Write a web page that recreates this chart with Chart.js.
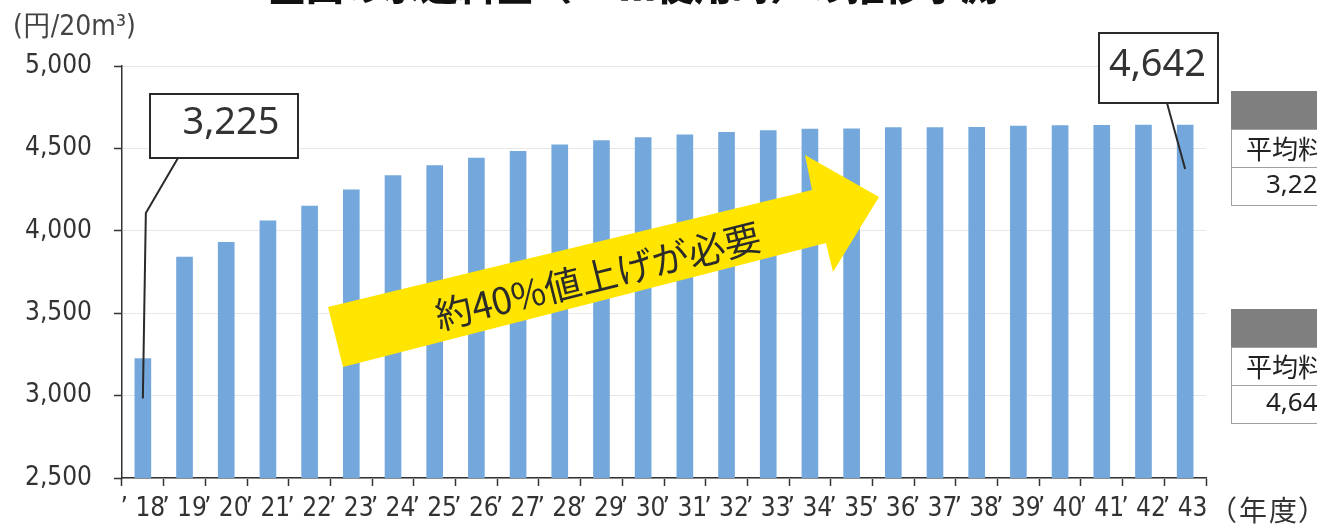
<!DOCTYPE html>
<html>
<head>
<meta charset="utf-8">
<script src="https://cdn.jsdelivr.net/npm/chart.js@4.4.1/dist/chart.umd.min.js"></script>
<style>
	html, body { margin: 0; padding: 0; background: #fff; overflow: hidden; }
</style>
</head>
<body>
<canvas id="suido_bar" width="1317" height="525"></canvas>
<script>
// values
const years = ['18', '19', '20', '21', '22', '23', '24', '25', '26', '27', '28', '29', '30',
	'31', '32', '33', '34', '35', '36', '37', '38', '39', '40', '41', '42', '43'];
const yearLabels = years.map(y => '\u2019 ' + y);
const charges = [3225, 3840, 3930, 4060, 4150, 4248, 4335, 4395, 4442, 4482, 4522, 4547, 4565,
	4582, 4598, 4608, 4617, 4618, 4626, 4627, 4628, 4636, 4638, 4640, 4641, 4642];
const yTicks = [2500, 3000, 3500, 4000, 4500, 5000];

const titleText = '全国の水道料金（20㎥使用時）の推移予測';
const unitText = '(円/20m³)';
const yearText = ['（', '年', '度', '）'];
const arrowText = '約40%値上げが必要';
const tableHead = '平均料金';

const narrow = "'Liberation Sans Narrow', 'DejaVu Sans Condensed', 'Liberation Sans', sans-serif";
const jp = "'Noto Sans CJK JP', 'Noto Sans', sans-serif";
const fmt = v => v.toLocaleString('en-US');

const extras = {
	id: 'extras',
	afterDraw(chart) {
		const c = chart.ctx;
		const bars = chart.getDatasetMeta(0).data;
		const first = bars[0];
		const last = bars[bars.length - 1];
		c.save();

		// title (cut off at the top of the picture)
		c.fillStyle = '#111';
		c.font = "900 38px " + jp;
		c.textBaseline = 'alphabetic';
		c.textAlign = 'left';
		c.fillText(titleText, 268, 0);

		// unit and year captions
		c.fillStyle = '#444';
		c.font = "28px " + narrow;
		c.textBaseline = 'middle';
		c.fillText(unitText, 13, 28);
		c.fillStyle = '#333';
		c.font = "28px " + jp;
		c.textAlign = 'center';
		const yearX = [1223, 1253, 1283, 1312];
		yearText.forEach((ch, i) => c.fillText(ch, yearX[i], 510));
		c.textAlign = 'left';

		// yellow arrow
		c.fillStyle = '#ffe500';
		c.beginPath();
		c.moveTo(328, 307);
		c.lineTo(812, 190);
		c.lineTo(805, 155);
		c.lineTo(879, 197);
		c.lineTo(833, 272);
		c.lineTo(826, 243);
		c.lineTo(343, 367);
		c.closePath();
		c.fill();
		c.save();
		c.translate(598, 276);
		c.rotate(-14 * Math.PI / 180);
		c.fillStyle = '#2b2b2b';
		c.font = "37px " + jp;
		c.textAlign = 'center';
		c.textBaseline = 'middle';
		c.fillText(arrowText, 0, 0);
		c.restore();

		// callouts
		const callout = (bx, by, bw, bh, text, dx, pts) => {
			c.strokeStyle = '#2a2a2a';
			c.lineWidth = 2;
			c.beginPath();
			c.moveTo(pts[0][0], pts[0][1]);
			for (let i = 1; i < pts.length; i++) c.lineTo(pts[i][0], pts[i][1]);
			c.stroke();
			c.fillStyle = '#fff';
			c.fillRect(bx, by, bw, bh);
			c.strokeRect(bx, by, bw, bh);
			c.fillStyle = '#333';
			c.font = "38px 'Noto Sans', sans-serif";
			c.textAlign = 'center';
			c.textBaseline = 'middle';
			c.fillText(text, bx + bw / 2 + dx, by + bh / 2 - 3);
		};
		callout(150, 94, 148, 64, fmt(charges[0]), 7,
			[[178, 158], [first.x + 3, 213], [first.x, first.y + 40]]);
		callout(1099, 33, 119, 70, fmt(charges[charges.length - 1]), -1,
			[[1167, 103], [last.x, last.y + 44]]);

		// cut-off tables on the right
		const table = (top, value) => {
			c.fillStyle = '#7f7f7f';
			c.fillRect(1231, top, 100, 38);
			c.strokeStyle = '#a0a0a0';
			c.lineWidth = 1;
			c.strokeRect(1231.5, top + 38.5, 100, 38);
			c.strokeRect(1231.5, top + 76.5, 100, 38);
			c.fillStyle = '#222';
			c.font = "26px " + jp;
			c.textAlign = 'left';
			c.textBaseline = 'middle';
			c.fillText(tableHead, 1246, top + 58);
			c.font = "26px 'Noto Sans', sans-serif";
			c.fillText(fmt(value), 1266, top + 95);
		};
		table(91, charges[0]);
		table(309, charges[charges.length - 1]);

		c.restore();
	}
};

const data = {
	labels: yearLabels,
	datasets: [{
		label: '',
		data: charges,
		barThickness: 16,
		backgroundColor: '#74a8dc',
		borderWidth: 0
	}]
};

const config = {
	type: 'bar',
	data: data,
	options: {
		responsive: false,
		animation: false,
		layout: { padding: { top: 66, right: 111, left: 0, bottom: 0 } },
		scales: {
			x: {
				grid: { offset: true, drawOnChartArea: false, tickLength: 8, tickColor: '#333', tickWidth: 1.5 },
				border: { color: '#333', width: 1.5 },
				ticks: { color: '#333', font: { family: narrow, size: 26 }, padding: 8, maxRotation: 0, autoSkip: false },
				afterFit: s => { s.height = 47; }
			},
			y: {
				min: yTicks[0],
				max: yTicks[yTicks.length - 1],
				grid: { color: '#e8e8e8', tickLength: 8, tickColor: '#333', tickWidth: 1.5 },
				border: { color: '#333', width: 1.5 },
				ticks: {
					stepSize: yTicks[1] - yTicks[0],
					color: '#333',
					padding: 22,
					font: { family: narrow, size: 26 },
					callback: v => fmt(v)
				},
				afterFit: s => { s.width = 122; }
			}
		},
		plugins: {
			legend: { display: false },
			tooltip: { enabled: false }
		}
	},
	plugins: [extras]
};

var ctx = document.getElementById("suido_bar");
if (ctx != null) {
	const chart = new Chart(ctx, config);
}
</script>
</body>
</html>
